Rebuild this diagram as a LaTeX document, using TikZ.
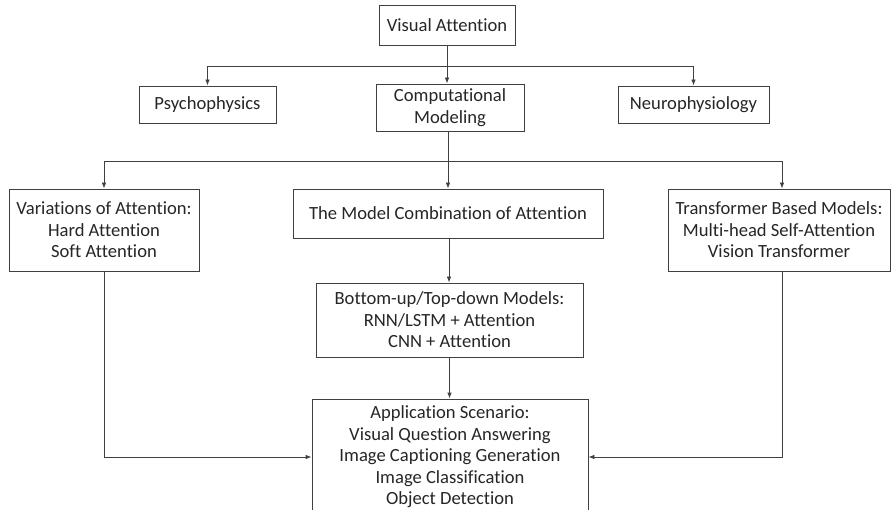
\documentclass[tikz,border=0pt]{standalone}
\usepackage{fontspec}
\setmainfont{Carlito}[Ligatures={NoCommon}]
\usetikzlibrary{arrows.meta}
\begin{document}
\begin{tikzpicture}[x=1pt,y=-1pt,
  box/.style={draw=black!75,line width=0.8pt,align=center,inner sep=0pt,
    font=\fontsize{18.6}{21.5}\selectfont,text=black!85},
  arr/.style={draw=black!75,line width=0.8pt,-{Latex[length=6pt,width=4.5pt]}},
  ln/.style={draw=black!75,line width=0.8pt}]
\useasboundingbox (0,0) rectangle (891,510);
\clip (0,0) rectangle (891,510);
\node[box,minimum width=136pt,minimum height=40pt] (va) at (447,25) {Visual Attention};
\node[box,minimum width=137pt,minimum height=37pt] (psy) at (207.5,104.5) {Psychophysics};
\node[box,minimum width=148pt,minimum height=47pt] (cm) at (450,107.5) {Computational\\Modeling};
\node[box,minimum width=151pt,minimum height=37pt] (neuro) at (693.5,104.5) {Neurophysiology};
\node[box,minimum width=190pt,minimum height=82pt] (var) at (104,230) {Variations of Attention:\\Hard Attention\\Soft Attention};
\node[box,minimum width=310pt,minimum height=49pt] (mc) at (448,213.5) {The Model Combination of Attention};
\node[box,minimum width=222pt,minimum height=82pt] (tr) at (779,230) {Transformer Based Models:\\Multi-head Self-Attention\\Vision Transformer};
\node[box,minimum width=267pt,minimum height=74pt] (bu) at (449.5,320) {Bottom-up/Top-down Models:\\RNN/LSTM + Attention\\CNN + Attention};
\node[box,minimum width=276pt,minimum height=116pt] (app) at (450,457) {Application Scenario:\\Visual Question Answering\\Image Captioning Generation\\Image Classification\\Object Detection};
\coordinate (j1) at (447,66);
\coordinate (j2) at (448,161);
\draw[ln] (va.south -| j1) -- (j1);
\draw[arr] (j1) -- (j1 |- cm.north);
\draw[arr] (j1) -| (psy.north);
\draw[arr] (j1) -| (neuro.north);
\draw[ln] (cm.south -| j2) -- (j2);
\draw[arr] (j2) -| (var.north);
\draw[arr] (j2) -- (j2 |- mc.north);
\draw[arr] (j2) -| ([xshift=3pt]tr.north);
\draw[arr] ([xshift=1pt]mc.south) -- ([xshift=1pt]mc.south |- bu.north);
\draw[arr] (bu.south) -- (bu.south |- app.north);
\draw[arr] (var.south) |- (app.west);
\draw[arr] ([xshift=3pt]tr.south) |- (app.east);
\end{tikzpicture}
\end{document}
